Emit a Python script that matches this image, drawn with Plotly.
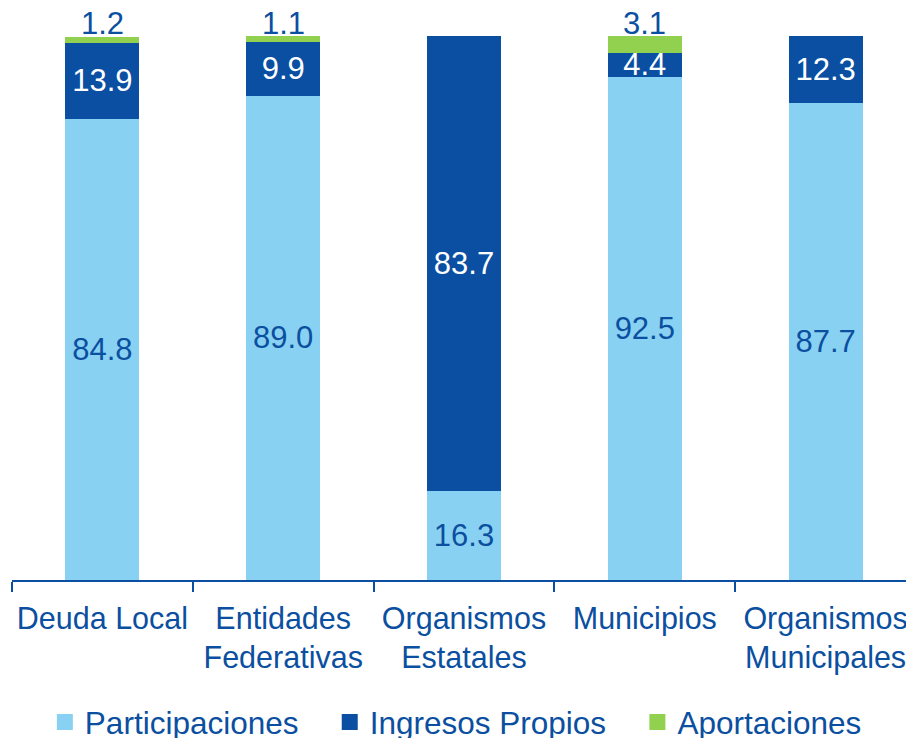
import plotly.graph_objects as go

categories = ["Deuda Local", "Entidades<br>Federativas", "Organismos<br>Estatales",
              "Municipios", "Organismos<br>Municipales"]
participaciones = [84.8, 89.0, 16.3, 92.5, 87.7]
ingresos_propios = [13.9, 9.9, 83.7, 4.4, 12.3]
aportaciones = [1.2, 1.1, 0, 3.1, 0]
series_names = ["Participaciones", "Ingresos Propios", "Aportaciones"]

BLUE_TEXT = "#0B4FA0"
LIGHT = "#89D1F2"
DARK = "#0A4FA2"
GREEN = "#92D050"
FONT = "Liberation Sans, Arial, sans-serif"
PAD = "\u00a0" * 3  # widens the gap between legend entries


def labels(values):
    return [f"{v:.1f}" if v else "" for v in values]


fig = go.Figure()
series = [
    (participaciones, LIGHT, BLUE_TEXT, True),
    (ingresos_propios, DARK, "white", True),
    (aportaciones, GREEN, BLUE_TEXT, False),
]
for i, (vals, color, tcolor, inside) in enumerate(series):
    name = series_names[i]
    fig.add_trace(go.Bar(
        x=categories, y=vals, name=name, width=0.41,
        marker=dict(color=color, line=dict(width=0)),
        text=labels(vals) if inside else None,
        textposition="inside" if inside else "none",
        constraintext="none", insidetextanchor="middle",
        textfont=dict(family=FONT, size=31, color=tcolor),
        cliponaxis=False, showlegend=False,
    ))
    # legend proxy with larger square symbol
    fig.add_trace(go.Scatter(
        x=[None], y=[None], mode="markers",
        name=name + (PAD if i < len(series) - 1 else ""),
        marker=dict(symbol="square", size=16, color=color),
    ))

# top labels for Aportaciones, sitting above the stack
for cat, p, ip, a in zip(categories, participaciones, ingresos_propios, aportaciones):
    if a:
        fig.add_annotation(x=cat, y=p + ip + a, text=f"{a:.1f}", showarrow=False,
                           yanchor="middle", yshift=13,
                           font=dict(family=FONT, size=31, color=BLUE_TEXT))

fig.update_layout(
    barmode="stack",
    width=914, height=738,
    margin=dict(l=4, r=6, t=28, b=166, autoexpand=False),
    paper_bgcolor="white", plot_bgcolor="white",
    font=dict(family=FONT, size=31, color=BLUE_TEXT),
    legend=dict(orientation="h", x=0.491, xanchor="center", y=-0.261, yanchor="middle",
                font=dict(size=31.5, color=BLUE_TEXT), itemwidth=30, tracegroupgap=0,
                traceorder="normal"),
    xaxis=dict(showline=True, linecolor=DARK, linewidth=2, ticks="outside",
               tickson="boundaries", ticklen=10, tickwidth=2, tickcolor=DARK,
               tickangle=0, automargin=False, ticklabelstandoff=10,
               showgrid=False, tickfont=dict(size=30.5, color=BLUE_TEXT)),
    yaxis=dict(range=[0, 100], visible=False, showgrid=False, automargin=False),
)

fig.write_html("out.html")
